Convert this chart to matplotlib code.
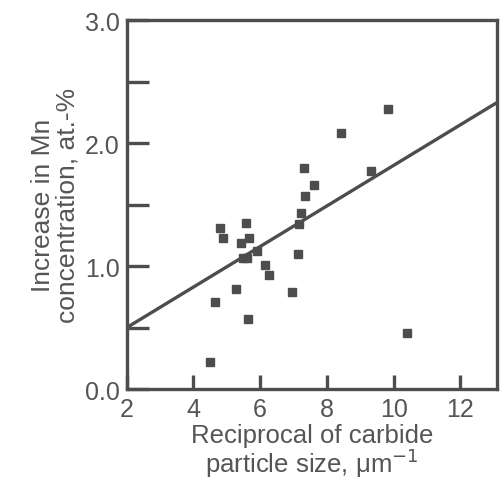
import matplotlib
matplotlib.use("Agg")
import matplotlib.pyplot as plt

# reciprocal of carbide particle size (1/um) and Mn increase (at.-%)
recip_size = [4.51, 4.66, 4.79, 4.90, 5.28, 5.43, 5.58, 5.68, 5.48, 5.60, 5.91,
              5.63, 6.15, 6.26, 6.96, 7.13, 7.16, 7.22, 7.35, 7.32, 7.60, 8.42,
              9.31, 9.84, 10.41]
mn_increase = [0.22, 0.71, 1.31, 1.23, 0.81, 1.19, 1.35, 1.23, 1.07, 1.07, 1.12,
               0.57, 1.01, 0.93, 0.79, 1.10, 1.34, 1.43, 1.57, 1.80, 1.66, 2.08,
               1.77, 2.28, 0.46]

fit_x = [2.0, 13.1]
fit_y = [0.50, 2.33]

x_ticks = [2, 4, 6, 8, 10, 12]
y_ticks = [0.0, 1.0, 2.0, 3.0]
y_minor = [0.5, 1.5, 2.5]

ink = "#4d4d4d"
text_col = "#555555"

plt.rcParams["font.family"] = ["Liberation Sans", "DejaVu Sans"]

fig = plt.figure(figsize=(5.03, 4.81), dpi=100)
ax = fig.add_axes([0.252, 0.189, 0.736, 0.767])

ax.plot(fit_x, fit_y, color=ink, lw=2.4, solid_capstyle="butt")
ax.plot(recip_size, mn_increase, "s", color=ink, ms=5.4, mec=ink)

ax.set_xlim(2, 13.1)
ax.set_ylim(0, 3.0)
ax.set_xticks(x_ticks)
ax.set_yticks(y_ticks)
ax.set_yticks(y_minor, minor=True)
ax.set_yticklabels(["%.1f" % v for v in y_ticks])

for s in ax.spines.values():
    s.set_linewidth(2.4)
    s.set_color(ink)

ax.tick_params(axis="x", direction="in", length=10, width=2.4, color=ink,
               labelsize=18, labelcolor=text_col, pad=6)
ax.tick_params(axis="y", which="both", direction="in", length=16, width=2.4,
               color=ink, labelsize=18, labelcolor=text_col, pad=5)
ax.tick_params(top=False, right=False)

ax.set_xlabel("Reciprocal of carbide\nparticle size, \u03bcm$^{-1}$",
              fontsize=18.5, color=text_col, linespacing=0.95, labelpad=1)
ax.set_ylabel("Increase in Mn\nconcentration, at.-%",
              fontsize=19, color=text_col, linespacing=1.0, labelpad=4)

fig.savefig("out.png", dpi=100)
